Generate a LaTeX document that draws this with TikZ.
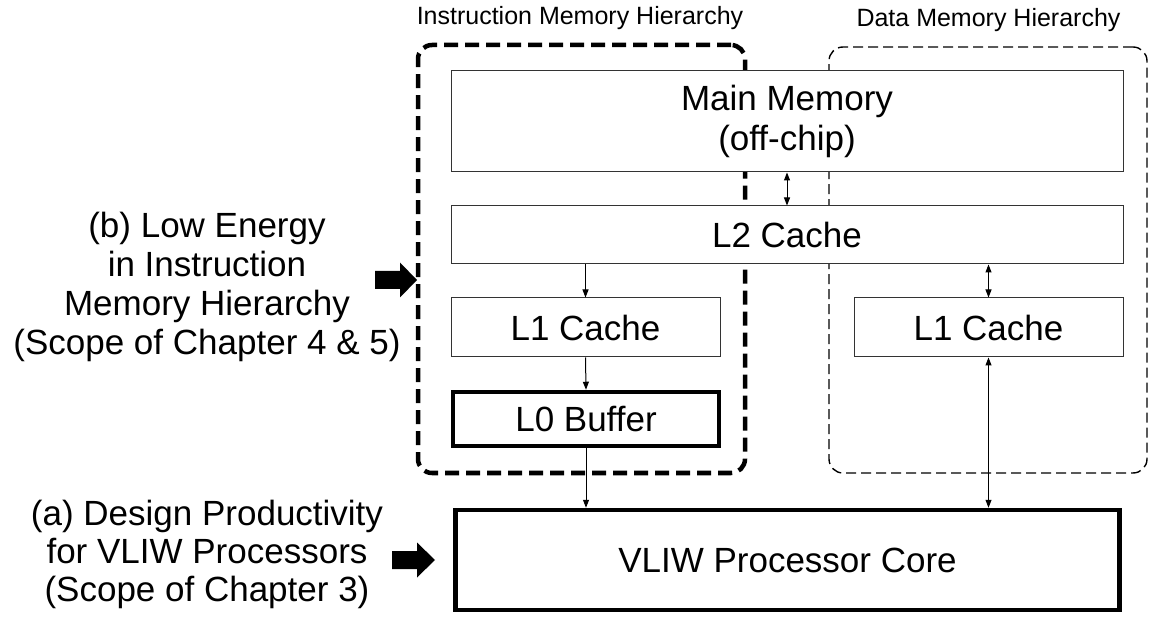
\documentclass[tikz,border=0pt]{standalone}
\usepackage{fontspec}
\setmainfont{Liberation Sans}
\usetikzlibrary{arrows.meta}
\begin{document}
\begin{tikzpicture}[x=1pt,y=-1pt,
  membox/.style={draw=black!80, line width=1pt, fill=white, inner sep=0pt, align=center,
    font=\fontsize{35}{40}\selectfont},
  thickbox/.style={membox, draw=black, line width=4.5pt},
  imhbox/.style={draw=black, line width=4.5pt, rounded corners=14pt, dash pattern=on 14pt off 7pt, inner sep=0pt},
  dmhbox/.style={draw=black, line width=1.4pt, rounded corners=14pt, dash pattern=on 10pt off 5pt, inner sep=0pt},
  conn/.style={line width=1pt, -{Triangle[length=8pt,width=6pt]}},
  bconn/.style={line width=1pt, {Triangle[length=8pt,width=6pt]}-{Triangle[length=8pt,width=6pt]}},
  hdr/.style={font=\fontsize{25}{28}\selectfont, inner sep=0pt},
  side/.style={align=center, inner sep=0pt},
  blockarrow/.style={fill=black}
]
\useasboundingbox (0,0) rectangle (1149,617);

% hierarchy frames
\node[imhbox, minimum width=327pt, minimum height=428pt] (imh) at (581.5,259) {};
\node[dmhbox, minimum width=318pt, minimum height=426pt] (dmh) at (988,260) {};
\node[hdr] (imhl) at (580,18) {Instruction Memory Hierarchy};
\node[hdr] (dmhl) at (988.5,20) {Data Memory Hierarchy};

% memory boxes
\node[membox, minimum width=672pt, minimum height=101pt] (mm) at (787,121.5) {Main Memory\\(off-chip)};
\node[membox, minimum width=672pt, minimum height=58pt] (l2) at (787,235) {L2 Cache};
\node[membox, minimum width=269pt, minimum height=59pt] (l1i) at (585.5,327.5) {L1 Cache};
\node[membox, minimum width=269pt, minimum height=59pt] (l1d) at (988.5,327.5) {L1 Cache};
\node[thickbox, minimum width=266pt, minimum height=54pt] (l0) at (586,419) {L0 Buffer};
\node[thickbox, minimum width=664pt, minimum height=100pt] (core) at (787.5,560) {VLIW Processor Core};

% connectors
\draw[bconn] (mm.south) -- (l2.north);
\draw[conn] (l2.south -| l1i) -- (l1i.north);
\draw[bconn] (l2.south -| l1d) -- (l1d.north);
\draw[conn] (l1i.south) -- (l0.north);
\draw[conn] (l0.south) -- (l0.south |- core.north);
\draw[bconn] (l1d.south) -- (l1d.south |- core.north);

% side texts
\node[side, font=\fontsize{35}{39}\selectfont] (tb) at (207,287) {(b) Low Energy\\in Instruction\\Memory Hierarchy\\(Scope of Chapter 4 \& 5)};
\node[side, font=\fontsize{35}{38}\selectfont] (ta) at (207,554) {(a) Design Productivity\\for VLIW Processors\\(Scope of Chapter 3)};

% block arrows
\coordinate (ab) at (375,280);
\coordinate (aa) at (392,560);
\fill[blockarrow, shift={(ab)}] (0,-9) -- (25,-9) -- (25,-17.5) -- (42,0) -- (25,17.5) -- (25,9) -- (0,9) -- cycle;
\fill[blockarrow, shift={(aa)}] (0,-9) -- (25,-9) -- (25,-17.5) -- (43,0) -- (25,17.5) -- (25,9) -- (0,9) -- cycle;
\end{tikzpicture}
\end{document}
